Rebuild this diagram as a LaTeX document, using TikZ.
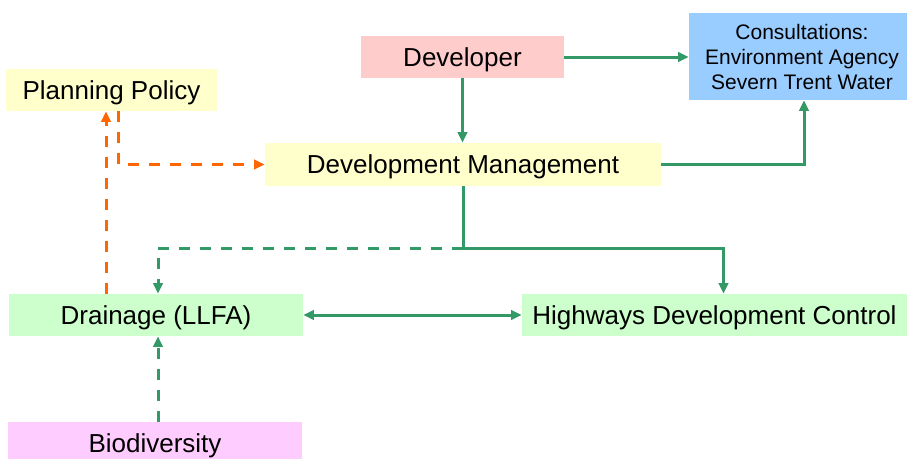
\documentclass[tikz,border=0pt]{standalone}
\usepackage{fontspec}
\setmainfont{Liberation Sans}
\usetikzlibrary{arrows.meta,calc}
\definecolor{flowgreen}{HTML}{339966}
\definecolor{floworange}{HTML}{FF6600}
\definecolor{boxyellow}{HTML}{FFFFCC}
\definecolor{boxpink}{HTML}{FFCCCC}
\definecolor{boxblue}{HTML}{99CCFF}
\definecolor{boxgreen}{HTML}{CCFFCC}
\definecolor{boxmagenta}{HTML}{FFCCFF}
\tikzset{
  box/.style={rectangle, inner sep=0pt, text depth=0pt, font=\fontsize{19.5pt}{23pt}\selectfont, text=black},
  tip/.style={-{Triangle[length=8pt,width=7pt]}},
  gline/.style={draw=flowgreen, line width=2.25pt},
  oline/.style={draw=floworange, line width=2.25pt},
  dashline/.style={dash pattern=on 8.25pt off 7.5pt},
}
\begin{document}
\begin{tikzpicture}[x=0.75pt,y=-0.75pt]
  \useasboundingbox (0,0) rectangle (907,458);
  \clip (0,0) rectangle (907,458);
  \fill[white] (0,0) rectangle (907,458);

  % boxes
  \node[box, fill=boxyellow, minimum width=158.25pt, minimum height=31.5pt] (pp) at (111.5,90) {Planning Policy};
  \node[box, fill=boxpink, minimum width=152.25pt, minimum height=31.5pt] (dev) at (462.5,57) {Developer};
  \node[box, fill=boxblue, minimum width=163.5pt, minimum height=65.25pt, align=center,
        font=\fontsize{15.75pt}{18.75pt}\selectfont] (cons) at (798,56.5)
        {\hspace*{6pt}Consultations:\\\hspace*{6pt}Environment Agency\\\hspace*{6pt}Severn Trent Water};
  \node[box, fill=boxyellow, minimum width=297pt, minimum height=32.25pt] (dm) at (463,164.5) {Development Management};
  \node[box, fill=boxgreen, minimum width=220.5pt, minimum height=31.5pt] (dr) at (156,315) {Drainage (LLFA)};
  \node[box, fill=boxgreen, minimum width=288.75pt, minimum height=31.5pt] (hw) at (714.5,315) {Highways Development Control};
  \node[box, fill=boxmagenta, minimum width=220.5pt, minimum height=31.5pt] (bio) at (155,443) {Biodiversity};

  % solid green flows
  \draw[gline, tip] (dev.east) -- (dev.east -| cons.west);
  \draw[gline, tip] (dev.south) -- (dev.south |- dm.north);
  \draw[gline, tip] (dm.east) -| ([xshift=4.5pt]cons.south);
  \coordinate (split) at ($(dm.south)+(0,62)$);
  \draw[gline, tip] (dm.south) -- (split) -| ([xshift=6.75pt]hw.north);
  \draw[gline, {Triangle[length=8pt,width=7pt]}-{Triangle[length=8pt,width=7pt]}] (dr.east) -- (hw.west);

  % dashed green flows
  \draw[gline, dashline, tip] (split) -| ([xshift=1.5pt]dr.north);
  \draw[gline, dashline, tip] ([xshift=2.25pt]bio.north) -- ([xshift=1.5pt]dr.south);

  % dashed orange flows
  \coordinate (up) at ([xshift=-37.5pt]dr.north);
  \draw[oline, dashline, tip] (up) -- (up |- pp.south);
  \draw[oline, dashline, tip] ([xshift=4.875pt]pp.south) |- (dm.west);
\end{tikzpicture}
\end{document}
